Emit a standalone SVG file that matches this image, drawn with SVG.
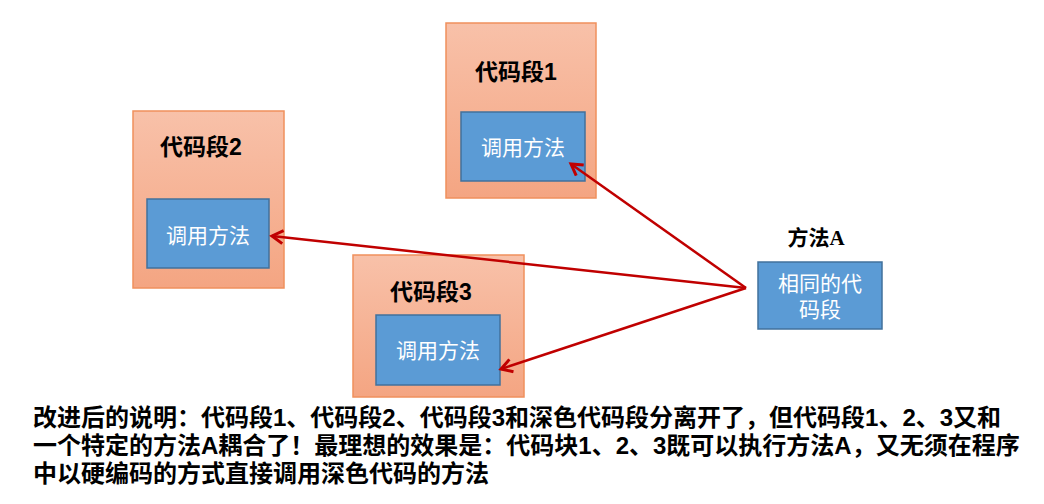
<svg xmlns="http://www.w3.org/2000/svg" width="1044" height="504" viewBox="0 0 1044 504">
<defs>
<linearGradient id="og" x1="0" y1="0" x2="0" y2="1">
<stop offset="0" stop-color="#F8C1A9"/>
<stop offset="1" stop-color="#F4A582"/>
</linearGradient>
<marker id="ah" markerWidth="16" markerHeight="16" refX="12" refY="8" orient="auto" markerUnits="userSpaceOnUse">
<path d="M1,1.5 L12,8 L1,14.5" fill="none" stroke="#C00000" stroke-width="3" stroke-linejoin="miter"/>
</marker>
<style>
.outer{fill:url(#og);stroke:#F0905C;stroke-width:1.5}
.inner{fill:#5B9BD5;stroke:#41719C;stroke-width:1.5}
.title{font-family:"Liberation Sans","Noto Sans CJK SC",sans-serif;font-weight:bold;font-size:23px;fill:#000}
.call{font-family:"Liberation Sans","Noto Sans CJK SC",sans-serif;font-size:21px;fill:#fff;text-anchor:middle}
.note{font-family:"Liberation Sans","Noto Sans CJK SC",sans-serif;font-weight:bold;font-size:24px;fill:#000}
.lbl{font-family:"Liberation Serif","Noto Sans CJK SC",serif;font-weight:bold;font-size:21px;fill:#000;text-anchor:middle}
.conn{stroke:#C00000;stroke-width:2.5;fill:none}
</style>
</defs>
<rect width="1044" height="504" fill="#fff"/>
<g id="seg1">
<rect class="outer" x="446" y="23" width="150" height="175"/>
<text class="title" x="475" y="80">代码段1</text>
<rect class="inner" x="461" y="112" width="124" height="69"/>
<text class="call" x="523" y="155">调用方法</text>
</g>
<g id="seg2">
<rect class="outer" x="133" y="111" width="151" height="177"/>
<text class="title" x="160" y="155">代码段2</text>
<rect class="inner" x="147" y="199" width="122" height="69"/>
<text class="call" x="208" y="243">调用方法</text>
</g>
<g id="seg3">
<rect class="outer" x="353" y="255" width="171" height="142"/>
<text class="title" x="390" y="300">代码段3</text>
<rect class="inner" x="376" y="315" width="124" height="70"/>
<text class="call" x="438" y="358">调用方法</text>
</g>
<g id="methodA">
<text class="lbl" x="816" y="245">方法A</text>
<rect class="inner" x="758" y="262" width="124" height="67"/>
<text class="call" x="820" y="291">相同的代</text>
<text class="call" x="820" y="317">码段</text>
</g>
<g id="connectors">
<line class="conn" x1="746" y1="288" x2="571" y2="164" marker-end="url(#ah)"/>
<line class="conn" x1="746" y1="288" x2="272" y2="236" marker-end="url(#ah)"/>
<line class="conn" x1="746" y1="288" x2="501" y2="369" marker-end="url(#ah)"/>
</g>
<g id="note">
<text class="note" x="33" y="426">改进后的说明：代码段1、代码段2、代码段3和深色代码段分离开了，但代码段1、2、3又和</text>
<text class="note" x="33" y="454">一个特定的方法A耦合了！最理想的效果是：代码块1、2、3既可以执行方法A，又无须在程序</text>
<text class="note" x="33" y="482">中以硬编码的方式直接调用深色代码的方法</text>
</g>
</svg>
